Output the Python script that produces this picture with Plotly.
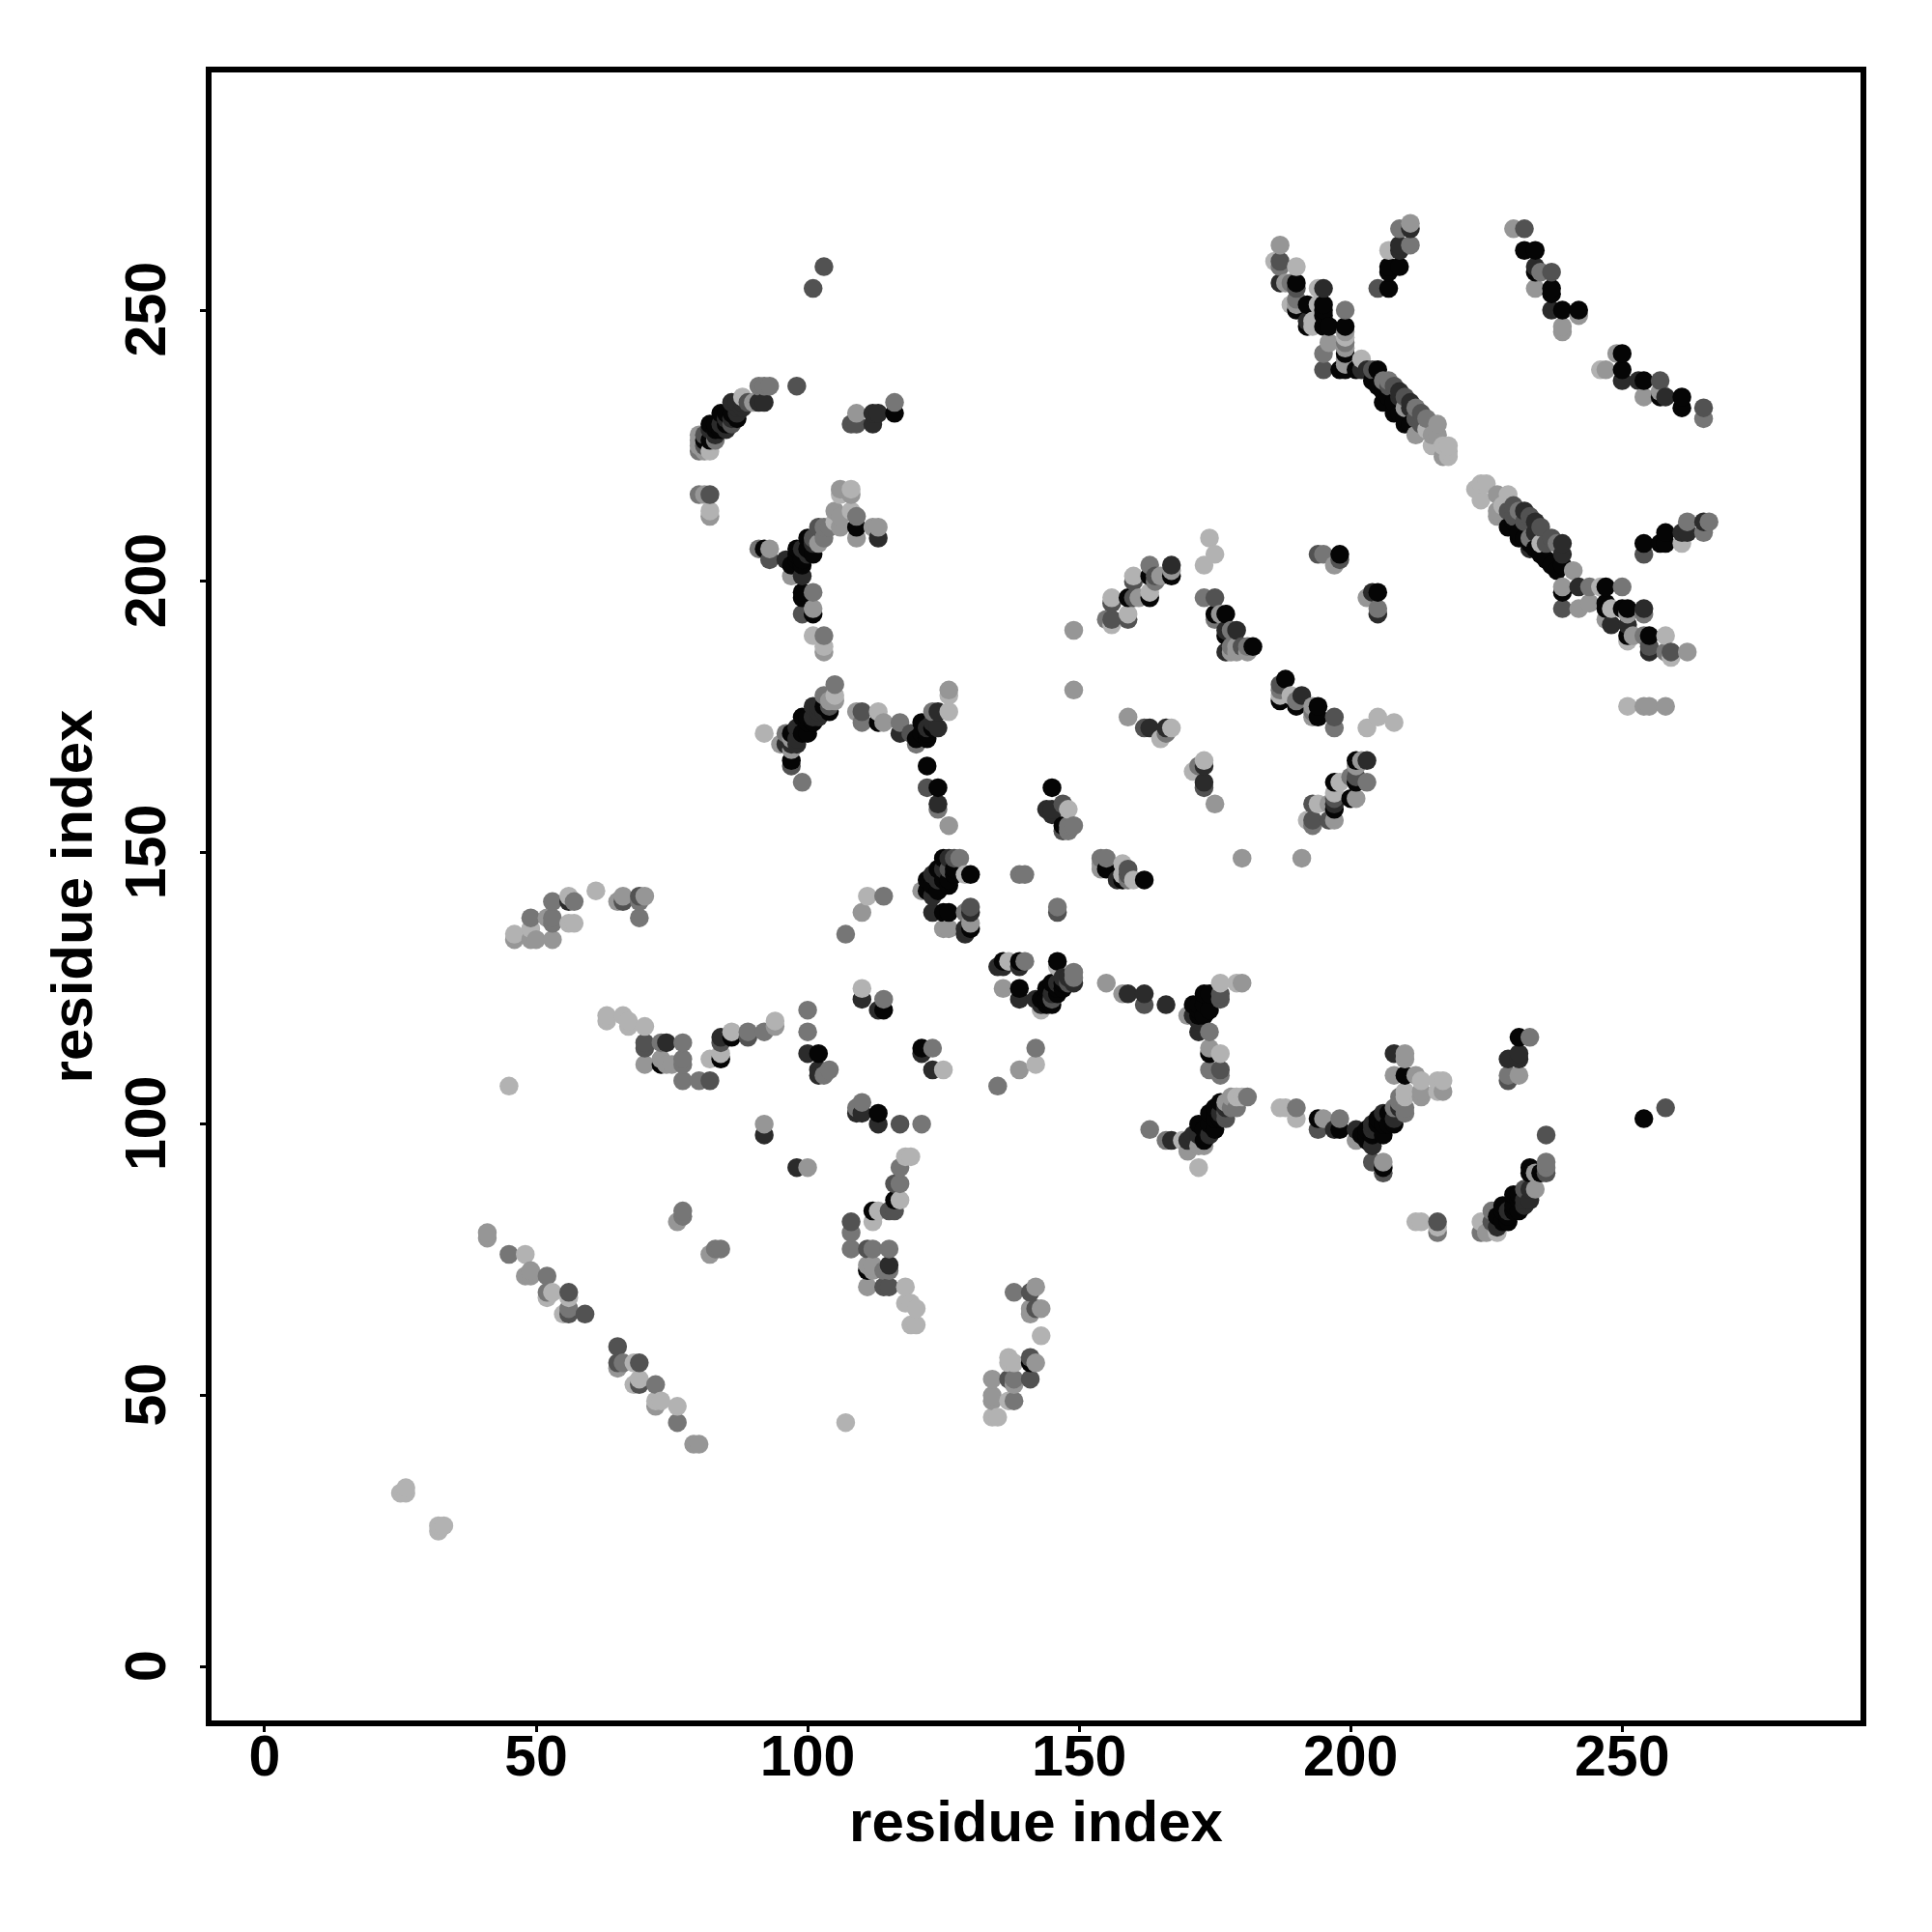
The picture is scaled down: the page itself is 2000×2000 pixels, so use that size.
import plotly.graph_objects as go

# Contacts as (residue_x, residue_y, gray step 0=darkest .. 5=lightest), one list per region
low_left = [(25,32,5),(26,32,5),(26,33,5),(32,25,5),(32,26,5),(33,26,5),(41,80,4),(41,79,4),(45,76,3),(48,76,5),(48,72,4),(49,73,4),(49,72,4),(52,72,3),(52,69,3),(52,68,5),(53,69,5),(56,69,2),(56,68,5),(55,65,5),(56,66,3),(56,65,2),(59,65,2),(65,59,2),(65,56,2),(65,55,4),(66,56,3),(68,56,5),(69,56,2),(68,52,5),(69,52,2),(69,53,5),(72,52,3),(72,48,4),(72,49,5),(73,49,5),(76,48,5),(76,45,3),(79,41,4),(80,41,4),(107,45,5),(77,84,3),(77,83,3),(76,82,4),(82,76,4),(83,77,3),(84,77,3)]
left_arc = [(46,135,5),(46,134,4),(49,138,3),(49,134,4),(49,136,5),(50,134,4),(53,134,4),(53,141,3),(53,138,3),(53,137,3),(52,138,4),(56,142,5),(57,141,3),(56,141,1),(56,137,5),(57,137,5),(61,143,5),(65,141,4),(66,142,4),(66,141,2),(69,142,2),(70,142,4),(69,141,3),(69,138,3)]
mid_left = [(63,120,5),(63,119,5),(66,120,5),(67,119,5),(67,118,5),(70,118,5),(70,115,2),(70,114,2),(73,115,3),(74,115,1),(77,115,3),(70,111,4),(73,111,0),(73,112,4),(74,111,4),(75,111,4),(77,112,3),(77,111,3),(77,108,3),(80,108,3),(82,108,2),(82,112,5),(84,112,0),(84,113,5),(84,116,1),(84,115,2),(86,116,0),(86,117,5),(89,116,2),(89,117,3),(92,117,3),(94,118,4),(94,119,5),(45,107,5)]
mid_center = [(100,121,3),(100,117,3),(100,113,1),(102,113,0),(102,110,1),(102,109,1),(103,109,3),(104,110,3),(110,125,5),(110,123,1),(113,121,1),(114,121,0),(114,123,3),(107,135,3),(110,139,4),(111,142,5),(114,142,3),(121,114,0),(121,113,1),(123,114,3),(123,110,1),(125,110,5),(109,103,3),(110,104,3),(109,102,1),(110,102,1),(113,102,0),(113,100,1),(117,100,2),(121,100,3),(92,100,4),(92,98,1),(98,92,1),(100,92,4)]
low_center = [(108,82,2),(108,80,3),(108,77,3),(111,77,2),(112,77,3),(115,77,3),(111,74,4),(111,73,0),(112,74,4),(112,73,4),(115,74,1),(114,73,3),(115,73,3),(111,70,4),(114,70,2),(115,70,2),(118,70,5),(118,67,5),(119,67,5),(120,66,5),(119,63,5),(120,63,5),(112,82,5),(112,84,0),(113,84,5),(115,84,2),(116,84,2),(117,86,5),(116,86,0),(117,92,3),(118,94,5),(119,94,5),(116,89,2),(117,89,3),(138,69,3),(141,69,2),(142,70,4),(141,66,4),(141,65,4),(142,66,2),(143,66,4),(143,61,5),(137,57,5),(137,56,5),(138,56,5),(141,57,2),(141,56,0),(142,56,4),(134,53,4),(137,53,2),(138,53,3),(141,53,2),(138,52,4),(134,50,4),(134,49,4),(137,49,5),(138,49,3),(134,46,5),(135,46,5)]
center_knot = [(121,143,4),(122,145,0),(122,143,0),(123,142,1),(124,147,0),(124,145,1),(123,139,1),(125,139,0),(125,136,4),(125,149,0),(126,149,1),(126,147,2),(127,147,0),(127,149,2),(128,149,3),(126,145,0),(127,146,0),(129,146,5),(130,146,0),(126,144,0),(126,139,0),(129,139,3),(130,140,2),(130,139,1),(130,137,4),(130,136,0),(129,135,1),(129,136,1),(126,136,4),(139,146,3),(140,146,3),(146,140,3),(146,139,2),(154,148,4),(155,149,3),(154,149,3),(154,147,4),(155,147,0),(158,148,5),(159,147,2),(157,145,1),(158,145,0),(159,145,3),(160,145,5),(162,145,0),(158,146,5),(159,146,2),(123,144,0),(123,146,1),(125,147,1),(125,145,0),(124,143,0)]
center_row = [(135,129,1),(136,130,0),(136,129,1),(137,130,5),(139,130,0),(139,129,1),(140,130,3),(136,125,4),(139,125,0),(139,123,1),(142,123,1),(143,121,5),(143,122,1),(144,125,0),(144,122,0),(145,122,0),(145,123,2),(146,130,0),(146,124,0),(146,129,5),(147,125,0),(147,127,1),(146,126,1),(149,128,3),(149,127,3),(149,126,1),(148,126,2),(148,127,1),(135,107,3),(139,110,4),(142,111,5),(142,114,3),(155,126,4),(158,124,4),(159,124,1),(162,124,1),(162,122,2),(166,122,1),(176,126,5),(179,126,5),(180,126,4),(173,124,0),(174,124,0),(176,124,2),(176,123,2),(171,122,0),(172,122,0),(173,122,0),(174,121,0),(170,120,4),(171,120,1),(172,120,0),(172,119,1),(172,117,1),(174,117,3),(174,114,4),(174,113,0),(176,113,5),(174,110,3),(176,110,2),(176,109,3),(172,121,0),(173,120,0),(146,125,0),(145,124,1),(145,126,0),(147,126,0),(144,123,0),(143,123,0)]
right_low = [(163,99,3),(166,97,3),(167,97,1),(169,97,5),(170,97,1),(170,95,4),(172,92,5),(171,98,1),(172,100,0),(173,97,0),(172,96,4),(173,96,4),(172,98,1),(174,102,0),(174,98,1),(175,99,0),(176,104,0),(176,101,0),(177,101,2),(177,104,4),(178,105,4),(179,103,3),(179,105,5),(180,105,5),(181,105,3),(187,103,5),(188,103,5),(190,103,3),(190,101,5),(194,101,0),(195,101,4),(194,99,2),(197,99,1),(198,99,0),(198,101,3),(201,99,1),(201,97,4),(203,99,0),(203,97,0),(204,96,1),(205,101,0),(205,99,1),(206,98,0),(204,93,2),(206,93,4),(206,92,0),(206,91,2),(207,100,0),(208,103,3),(208,100,0),(210,102,3),(210,103,3),(210,105,5),(210,106,5),(208,109,4),(210,109,0),(208,113,1),(210,113,4),(210,112,4),(212,109,4),(213,108,5),(213,105,4),(213,106,4),(216,108,5),(217,108,5),(216,106,5),(217,106,4),(212,82,5),(213,82,5),(216,82,2),(216,80,3),(216,81,5),(231,116,0),(233,116,3),(229,112,1),(231,112,1),(231,113,1),(229,109,3),(229,108,2),(231,109,4),(236,98,2),(233,92,0),(236,93,3),(236,92,3),(236,91,2),(235,91,0),(233,91,0),(234,91,4),(234,88,4),(233,88,1),(233,86,1),(232,88,2),(230,87,0),(231,84,0),(228,85,0),(229,82,0),(227,83,0),(226,84,3),(227,81,1),(228,82,0),(230,85,0),(224,82,5),(224,80,3),(225,80,4),(227,80,5),(226,82,2),(254,101,0),(258,103,2)]
right_low_fill = [(175,101,0),(176,102,1),(175,103,0),(174,100,0),(173,99,0),(177,103,1),(177,102,2),(178,103,3),(203,98,0),(204,98,0),(205,100,0),(206,100,0),(206,102,1),(207,102,0),(208,101,1),(209,103,1),(209,105,3),(209,104,3),(202,98,0),(204,100,1),(204,99,1),(228,84,0),(229,84,1),(231,86,0),(232,85,1),(231,87,0),(229,83,0),(230,84,0),(232,86,1)]
upper_left = [(91,236,3),(92,236,3),(93,236,3),(98,236,2),(91,233,1),(92,233,1),(90,233,4),(88,234,5),(89,233,2),(87,233,1),(86,233,1),(87,231,1),(86,231,0),(85,231,0),(84,231,0),(87,230,0),(85,229,0),(85,228,1),(82,229,0),(83,227,1),(81,227,2),(80,227,4),(80,226,4),(82,226,0),(80,224,3),(81,224,4),(82,224,5),(83,226,3),(80,225,4),(109,231,4),(108,229,2),(109,229,2),(112,229,1),(112,231,1),(113,231,1),(116,231,0),(116,233,3),(80,216,3),(81,216,4),(82,216,2),(82,213,5),(82,212,4),(101,254,2),(103,258,2),(83,229,0),(84,229,1),(84,228,0),(83,228,0),(82,228,1),(85,230,1),(86,229,2),(86,230,1),(81,226,0),(81,225,2),(88,232,1),(87,232,1),(88,233,1)]
left_y = [(106,217,4),(108,217,5),(108,216,4),(106,216,5),(105,213,4),(108,213,5),(109,212,3),(106,212,4),(105,211,5),(106,210,4),(109,210,0),(109,208,4),(112,210,4),(113,210,4),(113,208,1),(102,210,2),(103,210,3),(104,210,3),(103,208,3),(102,207,4),(100,208,0),(101,205,0),(98,206,0),(99,204,0),(98,204,0),(96,204,1),(97,203,0),(99,201,1),(97,201,4),(91,206,3),(92,206,0),(93,206,4),(93,204,2),(99,198,0),(99,197,0),(101,198,3),(99,194,2),(101,194,0),(101,195,4),(101,190,5),(103,190,3),(103,188,5),(103,187,4),(99,206,1),(100,206,0),(100,205,1),(98,205,0),(99,203,0),(101,207,1),(101,208,2)]
left_x = [(105,181,3),(105,179,5),(105,178,4),(103,179,3),(104,178,4),(104,177,2),(104,176,0),(102,177,1),(101,177,1),(102,175,1),(99,175,0),(100,174,0),(100,172,0),(98,173,1),(97,172,0),(96,172,3),(96,170,1),(97,171,4),(92,172,5),(95,170,4),(97,169,4),(97,167,0),(97,166,2),(99,163,3),(109,176,4),(110,176,2),(110,174,3),(113,176,5),(113,174,0),(114,174,4),(117,174,3),(117,172,1),(119,172,2),(120,170,3),(121,174,0),(120,171,0),(122,171,0),(122,173,1),(123,176,3),(124,176,1),(124,173,1),(126,176,5),(126,179,5),(126,180,4),(122,166,0),(122,162,2),(124,162,0),(124,159,1),(124,158,3),(126,155,4),(100,175,0),(101,175,1),(101,174,0),(102,176,1),(99,172,0),(98,171,1),(98,170,1),(97,170,1),(103,177,0),(103,176,1),(121,172,0),(122,172,0),(123,173,0),(123,174,1)]
mid_upper = [(174,208,5),(175,205,5),(173,203,5),(194,205,2),(195,205,3),(198,205,0),(198,204,2),(197,203,4),(203,197,4),(204,198,1),(205,198,0),(205,195,3),(205,194,1),(149,191,4),(155,193,3),(156,193,2),(156,192,5),(159,193,2),(159,194,5),(156,197,5),(156,196,2),(159,197,0),(160,197,2),(161,197,4),(160,201,5),(160,200,2),(163,203,3),(163,201,0),(164,201,2),(163,197,0),(163,198,5),(167,203,1),(167,201,0),(167,202,4),(165,201,4),(164,200,3),(173,197,3),(175,197,2),(175,194,0),(176,194,4),(177,194,0),(175,193,3),(177,191,1),(178,191,3),(179,191,1),(177,190,0),(178,188,3),(179,188,4),(180,188,2),(181,188,3),(182,188,0),(177,187,1),(178,187,4),(181,187,4),(179,187,4)]
mid_chain = [(188,182,0),(187,181,2),(187,179,5),(187,178,0),(187,180,3),(189,179,5),(190,178,3),(191,179,1),(190,177,0),(193,177,4),(194,177,0),(193,176,3),(194,175,0),(193,175,4),(197,175,2),(197,173,3),(203,173,5),(205,175,5),(208,174,5),(149,180,4),(159,175,4),(162,173,2),(163,173,1),(166,173,1),(165,171,5),(166,172,3),(167,173,5),(171,165,5),(172,166,3),(173,167,5),(173,166,1),(173,163,1),(173,162,2),(175,159,4),(180,149,4),(191,149,4),(145,162,0),(144,158,1),(145,158,1),(147,159,2),(148,158,5),(147,155,0),(147,154,2),(148,154,3),(149,155,3),(148,155,3),(145,157,1)]
mid_arc = [(201,167,0),(202,167,4),(203,167,1),(201,166,4),(197,163,0),(198,163,5),(200,164,3),(201,163,0),(201,164,2),(203,163,3),(200,160,0),(201,160,4),(197,160,2),(197,159,1),(197,161,5),(193,159,2),(194,159,5),(196,159,4),(197,158,0),(192,156,5),(193,156,2),(193,155,3),(196,156,2),(197,156,4)]
top_left_diag = [(187,262,4),(186,259,5),(187,259,2),(187,258,3),(190,258,5),(187,255,1),(188,255,4),(189,255,3),(190,255,0),(190,254,2),(189,251,5),(190,251,4),(190,252,3),(190,250,0),(192,251,0),(192,248,1),(192,247,0),(193,248,5),(193,247,5),(194,254,5),(195,254,1),(195,251,0),(195,250,0),(194,251,5),(195,249,0),(195,247,0),(196,247,0),(199,250,3),(199,247,0),(199,246,4),(196,244,4),(195,242,3),(195,239,2),(198,239,0),(199,239,0),(199,240,4),(199,244,3),(199,243,4),(199,242,0),(199,245,5),(199,241,4)]
top_diag = [(202,241,5),(202,239,1),(201,239,0),(203,239,1),(204,239,2),(205,239,0),(204,237,0),(206,237,3),(207,237,3),(207,236,2),(206,233,0),(208,231,0),(209,234,1),(210,229,0),(210,232,4),(211,232,1),(212,230,2),(213,229,2),(212,227,4),(214,228,5),(216,229,4),(215,227,4),(216,227,4),(215,225,5),(217,225,5),(218,225,5),(217,223,4),(218,224,5),(218,223,5),(205,236,0),(206,235,0),(207,234,0),(208,233,0),(209,231,0),(210,230,0),(211,229,0),(208,236,2),(209,235,1),(210,234,2),(211,233,1),(212,232,3),(213,231,2),(214,230,3)]
top_mid = [(211,266,4),(209,265,3),(211,265,1),(207,261,5),(209,262,1),(209,261,1),(211,262,3),(207,258,0),(209,258,0),(207,257,0),(205,254,2),(207,254,0)]
top_right = [(230,265,4),(232,265,2),(232,261,0),(234,261,0),(234,258,1),(234,257,0),(235,257,3),(237,257,2),(234,254,4),(237,254,0),(237,253,0),(237,250,1),(239,250,0),(242,250,0),(242,249,4),(239,247,4),(239,246,4),(246,239,5),(247,239,4),(249,242,4),(250,242,0),(250,239,0),(250,237,1),(253,237,1),(254,237,0),(254,234,4),(257,237,2),(257,235,4),(258,234,1),(261,234,0),(261,232,0),(265,232,2),(265,230,3),(257,234,0)]
low_diag = [(223,217,5),(224,218,5),(225,218,5),(224,215,5),(227,216,4),(229,216,5),(227,213,4),(228,214,5),(227,212,4),(229,213,2),(229,210,0),(230,212,2),(231,208,0),(232,211,2),(233,206,1),(234,209,1),(233,208,3),(235,207,5),(236,204,0),(236,207,2),(238,207,3),(239,205,1),(239,203,0),(241,202,4),(239,199,4),(239,198,0),(239,195,2),(242,195,4),(244,196,4),(242,199,1),(244,199,3),(246,199,5),(247,199,0),(250,199,3),(247,196,0),(247,195,0),(248,195,5),(250,195,0),(251,195,0),(254,195,1),(254,194,3),(251,194,4),(247,193,4),(248,192,1),(251,192,1),(251,190,0),(251,189,5),(252,190,4),(254,190,3),(255,190,0),(255,188,2),(255,187,1),(258,190,5),(258,187,3),(259,187,2),(259,186,5),(262,187,4),(251,177,5),(254,177,4),(255,177,4),(258,177,4)]
low_diag_fill = [(230,211,0),(231,209,0),(232,208,0),(233,207,0),(234,206,0),(235,205,0),(237,203,0),(238,202,0),(230,214,2),(231,213,3),(232,213,1),(233,212,2),(234,211,1),(235,210,2),(237,208,2),(239,207,1)]
right_mid = [(254,207,0),(254,205,2),(257,207,0),(258,209,0),(258,207,0),(261,207,5),(261,209,1),(262,211,3),(262,209,1),(265,211,1),(266,211,3),(265,209,3)]

gray_steps = ["#050505", "#2b2b2b", "#525252", "#767676", "#969696", "#b2b2b2"]
x_ticks = [0, 50, 100, 150, 200, 250]
y_ticks = [0, 50, 100, 150, 200, 250]
axis_label = "residue index"

regions = [low_left, left_arc, mid_left, mid_center, low_center, center_knot, center_row, right_low, right_low_fill,
           upper_left, left_y, left_x, mid_upper, mid_chain, mid_arc, top_left_diag, top_diag,
           top_mid, top_right, low_diag, low_diag_fill, right_mid]
contacts = {}
for region in regions:
    for px, py, g in region:
        contacts[(px, py)] = g
ordered = sorted(contacts)

fig = go.Figure(go.Scatter(
    x=[p[0] for p in ordered], y=[p[1] for p in ordered], mode="markers",
    marker=dict(size=19.5, color=[gray_steps[contacts[p]] for p in ordered], line=dict(width=0), opacity=1),
    hoverinfo="skip", showlegend=False))

tick_font = dict(family="Liberation Sans", size=59, color="black")
title_font = dict(family="Liberation Sans", size=60, color="black")
axis = dict(showgrid=False, zeroline=False, ticks="outside", ticklen=6, tickwidth=3, tickcolor="black",
            showline=True, mirror=True, linewidth=5.5, linecolor="black", tickfont=tick_font)
fig.update_xaxes(range=[-9.78, 293.9], tickvals=x_ticks, ticktext=[f"<b>{v}</b>" for v in x_ticks],
                 ticklabelstandoff=-26,
                 title=dict(text=f"<b>{axis_label}</b>", font=title_font, standoff=16), **axis)
fig.update_yaxes(range=[-9.89, 293.8], tickvals=y_ticks, ticktext=[f"<b>{v}</b>" for v in y_ticks], tickangle=-90,
                 ticklabelstandoff=13, ticklabelshift=8,
                 title=dict(text=f"<b>{axis_label}</b>", font=title_font, standoff=5), **axis)
fig.update_layout(width=2000, height=2000, paper_bgcolor="white", plot_bgcolor="white",
                  margin=dict(l=218.75, r=74.25, t=74.75, b=218.75, autoexpand=False))
fig.write_html("out.html", config={"displayModeBar": False}, post_script="document.body.style.margin='0';")
